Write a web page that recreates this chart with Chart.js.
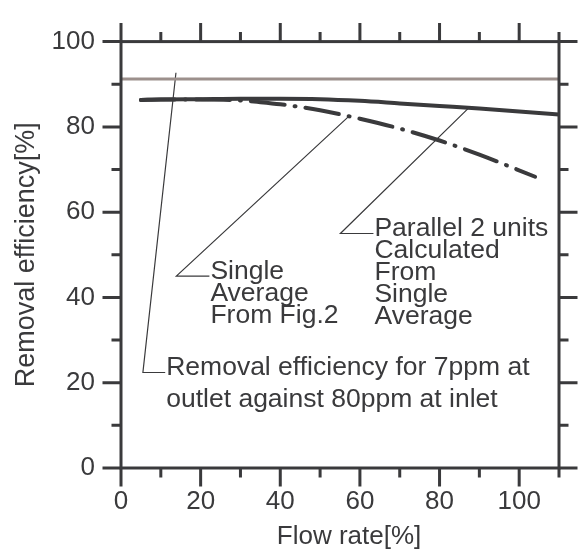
<!DOCTYPE html>
<html>
<head>
<meta charset="utf-8">
<script src="https://cdn.jsdelivr.net/npm/chart.js@4.4.1/dist/chart.umd.min.js"></script>
<style>
  html, body { margin: 0; padding: 0; background: #fff; }
</style>
</head>
<body>
<canvas id="effChart" width="579" height="554"></canvas>
<script>
// Removal efficiency against flow rate
const flowParallel = [5, 10, 20, 30, 40, 50, 60, 70, 80, 90, 100, 110];
const effParallel  = [86.3, 86.4, 86.5, 86.6, 86.6, 86.5, 86.1, 85.5, 84.9, 84.3, 83.6, 82.9];

const flowSingle = [5, 10, 20, 30, 35, 40, 50, 60, 70, 80, 90, 104];
const effSingle  = [86.3, 86.4, 86.4, 86.2, 85.8, 85.3, 83.9, 81.9, 79.6, 76.8, 73.5, 68.3];

// 7ppm at outlet vs 80ppm at inlet -> 1 - 7/80
const targetFlow = [0, 110];
const targetEff = 91.25;

// leader lines for the notes
const leadRemovalFlow  = [13.8, 5.5, 11.1];
const leadRemovalEff   = [92.7, 22.4, 22.4];
const leadSingleFlow   = [57.0, 13.9, 22.2];
const leadSingleEff    = [82.3, 45.0, 45.0];
const leadParallelFlow = [87.4, 55.1, 63.4];
const leadParallelEff  = [84.5, 55.0, 55.0];

const xMajor = [0, 20, 40, 60, 80, 100];
const xMinor = [10, 30, 50, 70, 90, 110];
const yMajor = [0, 20, 40, 60, 80, 100];
const yMinor = [10, 30, 50, 70, 90];

const ink = '#3a3a3c';
const fontFamily = '"Liberation Sans", Arial, sans-serif';

const notes = [
    { lines: ['Removal efficiency for 7ppm at', 'outlet against 80ppm at inlet'], x: 11.1, y: 22.4, gap: 31.7 },
    { lines: ['Single', 'Average', 'From Fig.2'], x: 22.2, y: 45.0, gap: 22 },
    { lines: ['Parallel 2 units', 'Calculated', 'From', 'Single', 'Average'], x: 63.4, y: 55.0, gap: 21.9 }
];

function pairs(xs, ys) {
    return xs.map((x, i) => ({ x: x, y: Array.isArray(ys) ? ys[i] : ys }));
}

function leader(xs, ys) {
    return {
        data: pairs(xs, ys),
        borderColor: ink,
        borderWidth: 1.2,
        pointRadius: 0,
        tension: 0
    };
}

// box around the plot with ticks pointing outward on all four sides
const framePlugin = {
    id: 'frame',
    afterDatasetsDraw(chart) {
        const { ctx, chartArea: a, scales: { x, y } } = chart;
        ctx.save();
        ctx.strokeStyle = ink;
        ctx.lineWidth = 3;
        ctx.strokeRect(a.left, a.top, a.right - a.left, a.bottom - a.top);
        ctx.beginPath();
        const xt = (vals, len) => vals.forEach(v => {
            const px = x.getPixelForValue(v);
            ctx.moveTo(px, a.bottom); ctx.lineTo(px, a.bottom + len);
            ctx.moveTo(px, a.top); ctx.lineTo(px, a.top - len);
        });
        const yt = (vals, len) => vals.forEach(v => {
            const py = y.getPixelForValue(v);
            ctx.moveTo(a.left, py); ctx.lineTo(a.left - len, py);
            ctx.moveTo(a.right, py); ctx.lineTo(a.right + len, py);
        });
        xt(xMajor, 18.5); xt(xMinor, 9.5);
        yt(yMajor, 18.5); yt(yMinor, 9.5);
        ctx.stroke();

        // note texts
        ctx.fillStyle = ink;
        ctx.font = '26.5px ' + fontFamily;
        ctx.textAlign = 'left';
        ctx.textBaseline = 'alphabetic';
        notes.forEach(n => {
            const px = x.getPixelForValue(n.x) + 1;
            const py = y.getPixelForValue(n.y) + 3;
            n.lines.forEach((t, i) => ctx.fillText(t, px, py + i * n.gap));
        });

        // x axis title, sits a little right of centre
        ctx.font = '26px ' + fontFamily;
        ctx.textAlign = 'center';
        ctx.textBaseline = 'middle';
        ctx.fillText('Flow rate[%]', (a.left + a.right) / 2 + 9, 537);
        ctx.restore();
    }
};

const ctx = document.getElementById('effChart').getContext('2d');
new Chart(ctx, {
    type: 'line',
    data: {
        datasets: [
            {
                label: 'Removal efficiency for 7ppm',
                data: pairs(targetFlow, targetEff),
                borderColor: '#9c908c',
                borderWidth: 3,
                pointRadius: 0
            },
            {
                label: 'Single Average From Fig.2',
                data: pairs(flowSingle, effSingle),
                borderColor: ink,
                borderWidth: 4,
                borderDash: [34, 10, 1, 10],
                borderCapStyle: 'round',
                cubicInterpolationMode: 'monotone',
                pointRadius: 0
            },
            {
                label: 'Parallel 2 units',
                data: pairs(flowParallel, effParallel),
                borderColor: ink,
                borderWidth: 4,
                borderCapStyle: 'round',
                cubicInterpolationMode: 'monotone',
                pointRadius: 0
            },
            leader(leadRemovalFlow, leadRemovalEff),
            leader(leadSingleFlow, leadSingleEff),
            leader(leadParallelFlow, leadParallelEff)
        ]
    },
    options: {
        responsive: false,
        animation: false,
        layout: { padding: { top: 30, right: 20, left: 0, bottom: 0 } },
        plugins: {
            legend: { display: false },
            tooltip: { enabled: false }
        },
        scales: {
            x: {
                type: 'linear',
                min: 0,
                max: 110,
                afterBuildTicks: s => { s.ticks = xMajor.map(v => ({ value: v })); },
                afterFit: s => { s.height = 86; },
                grid: { display: false, drawTicks: false },
                border: { display: false },
                ticks: { padding: 18, color: ink, maxRotation: 0, font: { family: fontFamily, size: 26 } },
                title: { display: false }
            },
            y: {
                type: 'linear',
                min: 0,
                max: 100,
                afterBuildTicks: s => { s.ticks = yMajor.map(v => ({ value: v })); },
                afterFit: s => { s.width = 121; },
                grid: { display: false, drawTicks: false },
                border: { display: false },
                ticks: { padding: 26, color: ink, font: { family: fontFamily, size: 26 } },
                title: {
                    display: true,
                    text: 'Removal efficiency[%]',
                    color: ink,
                    font: { family: fontFamily, size: 27 },
                    padding: { top: 10.5, bottom: 0 }
                }
            }
        }
    },
    plugins: [framePlugin]
});
</script>
</body>
</html>
